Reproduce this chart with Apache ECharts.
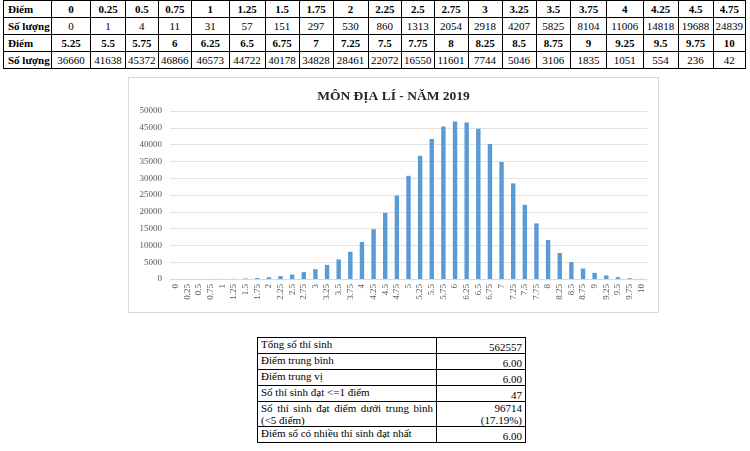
<!DOCTYPE html>
<html><head><meta charset="utf-8">
<script src="https://cdn.jsdelivr.net/npm/echarts/dist/echarts.min.js"></script>
<style>
html,body{margin:0;padding:0;background:#fff;width:750px;height:451px;overflow:hidden;font-family:"Liberation Serif","Times New Roman",serif;color:#000;}
table,td{font-family:"Liberation Serif","Times New Roman",serif;}
#t1{position:absolute;left:3px;top:0;width:742px;border-collapse:collapse;table-layout:fixed;font-size:11px;}
#t1 td{border:1px solid #000;height:16px;padding:0;text-align:center;line-height:14px;white-space:nowrap;overflow:hidden;}
#t1 td.h{text-align:left;padding-left:4px;font-weight:bold;}
#t1 tr.b td{font-weight:bold;}
#frame{position:absolute;left:128px;top:77px;width:529px;height:234px;border:1px solid #d9d9d9;}
#chart{position:absolute;left:128px;top:77px;width:531px;height:236px;}
#t2{position:absolute;left:257px;top:337px;width:268px;border-collapse:collapse;table-layout:fixed;font-size:11px;}
#t2 td{border:1px solid #000;padding:0 3px;line-height:12px;height:15px;}
#t2 td.l{vertical-align:top;text-align:justify;text-align-last:left;}
#t2 td.v{vertical-align:bottom;text-align:right;}
</style>
</head><body>
<table id="t1"></table>
<div id="frame"></div>
<div id="chart"></div>
<table id="t2"></table>
<script>
const scores = ['0','0.25','0.5','0.75','1','1.25','1.5','1.75','2','2.25','2.5','2.75','3','3.25','3.5','3.75','4','4.25','4.5','4.75','5','5.25','5.5','5.75','6','6.25','6.5','6.75','7','7.25','7.5','7.75','8','8.25','8.5','8.75','9','9.25','9.5','9.75','10'];
const counts = [0,1,4,11,31,57,151,297,530,860,1313,2054,2918,4207,5825,8104,11006,14818,19688,24839,30708,36660,41638,45372,46866,46573,44722,40178,34828,28461,22072,16550,11601,7744,5046,3106,1835,1051,554,236,42];
const chartTitle = 'MÔN ĐỊA LÍ - NĂM 2019';
const rowHeadScore = 'Điểm';
const rowHeadCount = 'Số lượng';
const statLabels = ['Tổng số thí sinh','Điểm trung bình','Điểm trung vị','Số thí sinh đạt <=1 điểm','Số thí sinh đạt điểm dưới trung bình (<5\u00a0điểm)','Điểm số có nhiều thí sinh đạt nhất'];
const statValues = [['562557'],['6.00'],['6.00'],['47'],['96714','(17.19%)'],['6.00']];
const colWidths = [48,39,35,32.5,33.5,37.5,36,34,34,35,33.5,32.5,34,34,34,34.5,36,36.5,35,35,32.5];

function esc(s){return s.replace(/&/g,'&amp;').replace(/</g,'&lt;').replace(/>/g,'&gt;');}
// top table: score 5 is not listed in the source table
const s1 = scores.slice(0,20), c1 = counts.slice(0,20);
const s2 = scores.slice(21), c2 = counts.slice(21);
let h = '<colgroup>' + colWidths.map(w=>'<col style="width:'+w+'px">').join('') + '</colgroup>';
function row(head, vals, bold){
  return '<tr'+(bold?' class="b"':'')+'><td class="h">'+esc(head)+'</td>'+vals.map(v=>'<td>'+esc(String(v))+'</td>').join('')+'</tr>';
}
h += row(rowHeadScore, s1, true) + row(rowHeadCount, c1, false) + row(rowHeadScore, s2, true) + row(rowHeadCount, c2, false);
document.getElementById('t1').innerHTML = h;

let h2 = '<colgroup><col style="width:179px"><col style="width:89px"></colgroup>';
statLabels.forEach((l,i)=>{
  h2 += '<tr><td class="l">'+esc(l)+'</td><td class="v">'+statValues[i].map(esc).join('<br>')+'</td></tr>';
});
document.getElementById('t2').innerHTML = h2;

const chart = echarts.init(document.getElementById('chart'));
chart.setOption({
  animation:false,
  title:{text:chartTitle,left:'center',top:8,textStyle:{fontFamily:'Liberation Serif',fontWeight:'bold',fontSize:13.5,color:'#262626'}},
  grid:{left:42,right:12,top:34,bottom:34},
  xAxis:{type:'category',data:scores,axisLine:{lineStyle:{color:'#d9d9d9'}},axisTick:{show:false},
    axisLabel:{rotate:90,interval:0,fontSize:9,color:'#595959',fontFamily:'Liberation Serif',margin:5}},
  yAxis:{type:'value',min:0,max:50000,interval:5000,axisLine:{show:false},axisTick:{show:false},
    splitLine:{lineStyle:{color:'#e3e3e3'}},
    axisLabel:{fontSize:9,color:'#595959',fontFamily:'Liberation Serif',margin:8,formatter:v=>String(v)}},
  series:[{type:'bar',data:counts,barWidth:'38%',itemStyle:{color:'#5b9bd5'}}]
});
</script>
</body></html>
